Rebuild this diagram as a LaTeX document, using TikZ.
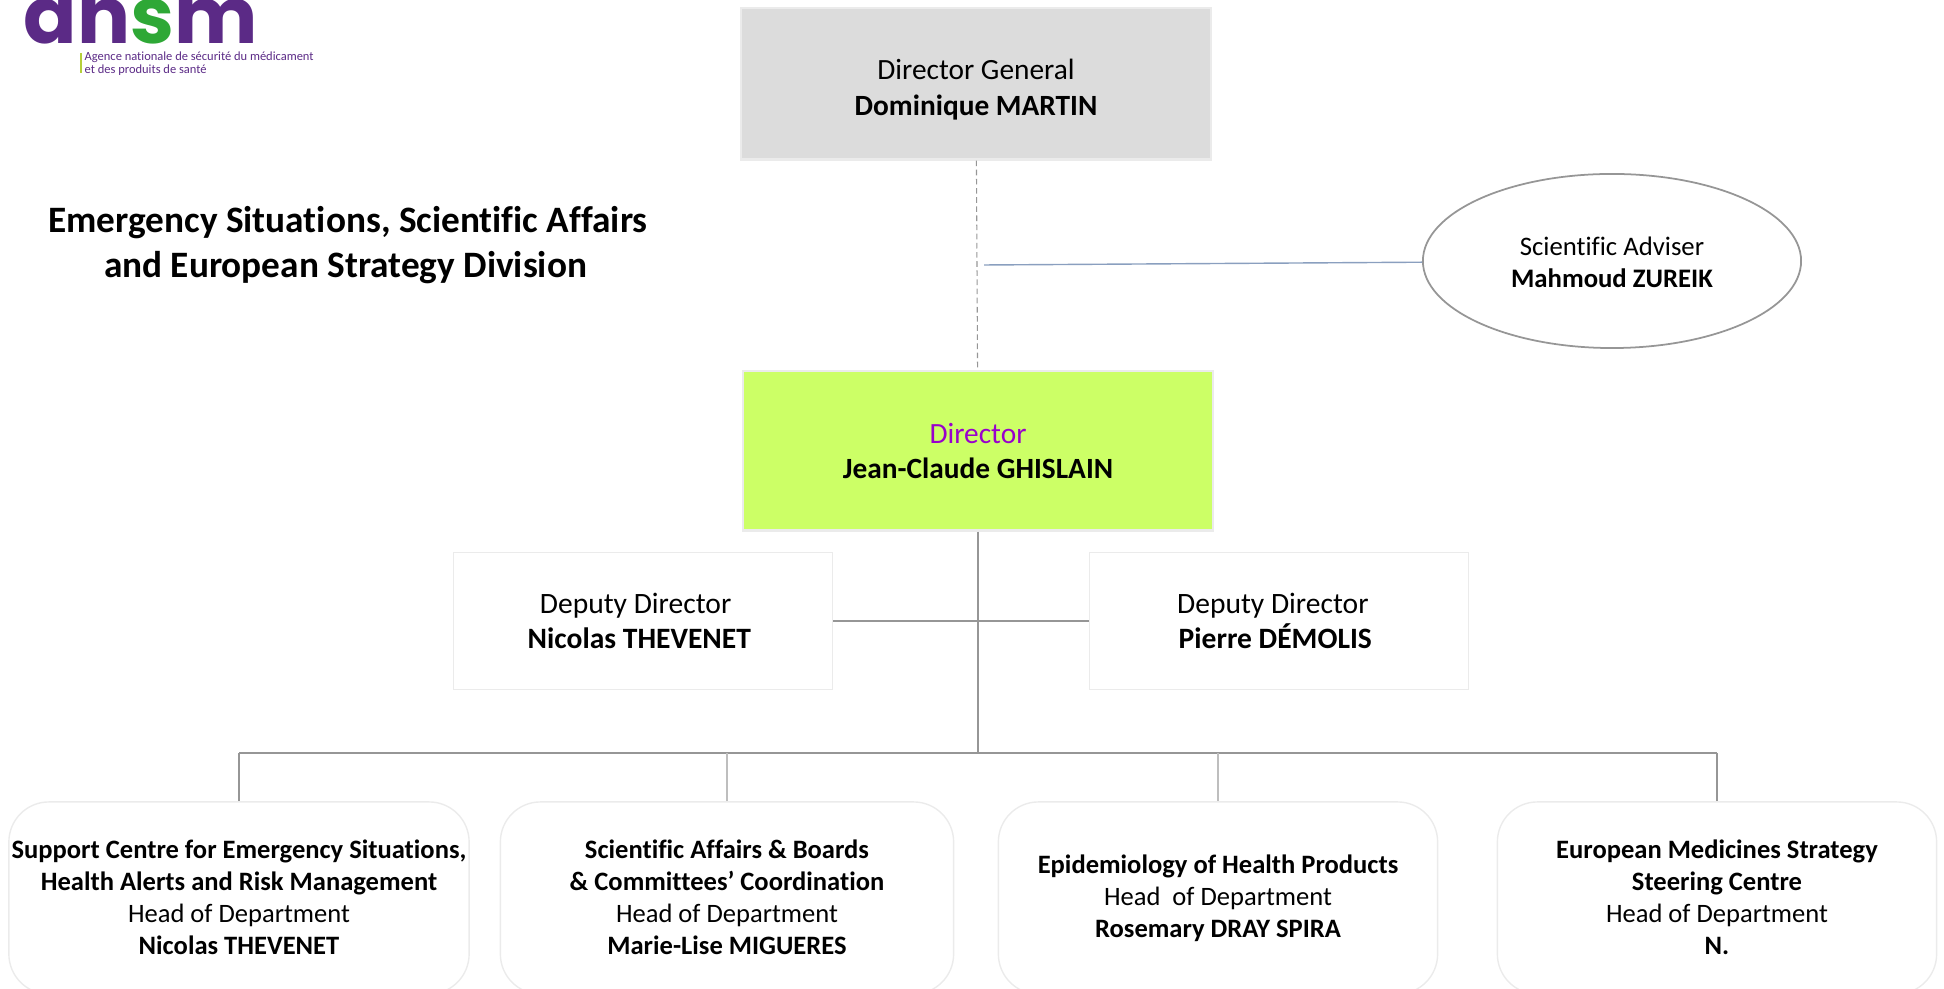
\documentclass[tikz,border=0pt]{standalone}
\usepackage{fontspec}
\setmainfont{Carlito}[Ligatures=NoCommon]
\newfontfamily\logofont{Poppins}
\usepackage{tikz}
\usetikzlibrary{shapes.geometric}
\definecolor{ansmpurple}{HTML}{5B2A86}
\definecolor{ansmgreen}{HTML}{2EA836}
\definecolor{ansmlime}{HTML}{B5CF3A}
\definecolor{linegray}{HTML}{969696}
\definecolor{lightlink}{HTML}{BEBEBE}
\definecolor{edgegray}{HTML}{EBEBEB}
\definecolor{dirgreen}{HTML}{CCFF66}
\definecolor{dggray}{HTML}{DCDCDC}
\definecolor{dirpurple}{HTML}{9900CC}
\definecolor{advblue}{HTML}{8A9FBF}
\tikzset{
  topbox/.style={draw=edgegray,line width=.6pt,align=center,inner sep=0pt,minimum width=4.7cm,font=\fontsize{8.35}{10.1}\selectfont},
  deputybox/.style={draw=edgegray,line width=.4pt,align=center,inner sep=0pt,minimum width=3.79cm,minimum height=1.37cm,font=\fontsize{8.4}{10.2}\selectfont},
  deptbox/.style={draw=edgegray,line width=.4pt,rounded corners=.4cm,align=center,inner sep=0pt,minimum height=1.92cm,font=\fontsize{7.55}{9.1}\selectfont},
  link/.style={draw=linegray,line width=.3pt}
}
\begin{document}
\begin{tikzpicture}
[x=.01cm,y=-.01cm]
\useasboundingbox (0,0) rectangle (1944,989);

\node[font=\logofont\bfseries\fontsize{22.4}{24}\selectfont,text=ansmpurple,inner sep=0pt,anchor=base west] (logo) at (23,44) {an{\color{ansmgreen}s}m};
\node[font=\fontsize{3.55}{3.6}\selectfont,text=ansmpurple,align=left,inner sep=0pt,anchor=west] (tagline) at (84,64) {Agence nationale de sécurité du médicament\\et des produits de santé};
\coordinate (t1) at (81,53);
\coordinate (t2) at (81,73);

\node[font=\bfseries\fontsize{10.6}{12.8}\selectfont,align=center,inner sep=0pt] (title) at (348,245) {Emergency Situations, Scientific Affairs\\and European Strategy Division\hspace*{1.4pt}};

\node[topbox,fill=dggray,minimum height=1.51cm] (dg) at (976,84) {\rule{0pt}{8.9pt}Director General\\\textbf{Dominique MARTIN}};
\node[topbox,fill=dirgreen,minimum height=1.59cm] (dir) at (978,451) {{\color{dirpurple}Director}\\\textbf{Jean-Claude GHISLAIN}};
\node[draw=linegray,line width=.5pt,ellipse,align=center,inner sep=0pt,minimum width=3.78cm,minimum height=1.74cm,font=\fontsize{7.6}{9.1}\selectfont] (adv) at (1612,261) {\rule{0pt}{6pt}Scientific Adviser\\\textbf{Mahmoud ZUREIK}};
\coordinate (advend) at (984,265);

\node[deputybox] (dep1) at (643,621) {Deputy Director\hspace*{4.2pt}\\\textbf{Nicolas THEVENET}\hspace*{2.1pt}};
\node[deputybox] (dep2) at (1279,621) {Deputy Director\hspace*{3.5pt}\\\textbf{Pierre DÉMOLIS}\hspace*{2.1pt}};

\node[deptbox,minimum width=4.6cm] (d1) at (239,898) {\textbf{Support Centre for Emergency Situations,}\\\textbf{Health Alerts and Risk Management}\\Head of Department\\\textbf{Nicolas THEVENET}\rule[-.7pt]{0pt}{0pt}};
\node[deptbox,minimum width=4.53cm] (d2) at (727,898) {\textbf{Scientific Affairs \& Boards}\\\textbf{\& Committees’ Coordination}\\Head of Department\\\textbf{Marie-Lise MIGUERES}\rule[-.7pt]{0pt}{0pt}};
\node[deptbox,minimum width=4.39cm] (d3) at (1218,898) {\textbf{Epidemiology of Health Products}\\Head~ of Department\\\textbf{Rosemary DRAY SPIRA}};
\node[deptbox,minimum width=4.39cm] (d4) at (1717,898) {\textbf{European Medicines Strategy}\\\textbf{Steering Centre}\\Head of Department\\\textbf{N.}\rule[-.7pt]{0pt}{0pt}};

\coordinate (bus) at (978,753);
\coordinate (b1) at (239,753);
\coordinate (b2) at (727,753);
\coordinate (b3) at (1218,753);
\coordinate (b4) at (1717,753);

\draw[ansmlime,line width=.6pt] (t1) -- (t2);
\draw[link,dash pattern=on 1.6pt off 1pt] (dg) -- (dir);
\draw[advblue,line width=.4pt] (advend) -- (adv);
\draw[link] (dir) -- (bus);
\draw[link] (dep1) -- (dep2);
\draw[link] (b1) -- (b4);
\foreach \from/\to in {b1/d1,b4/d4}
\draw[link] (\from) -- (\to);
\foreach \from/\to in {b2/d2,b3/d3}
\draw[lightlink,line width=.3pt] (\from) -- (\to);
\end{tikzpicture}
\end{document}
